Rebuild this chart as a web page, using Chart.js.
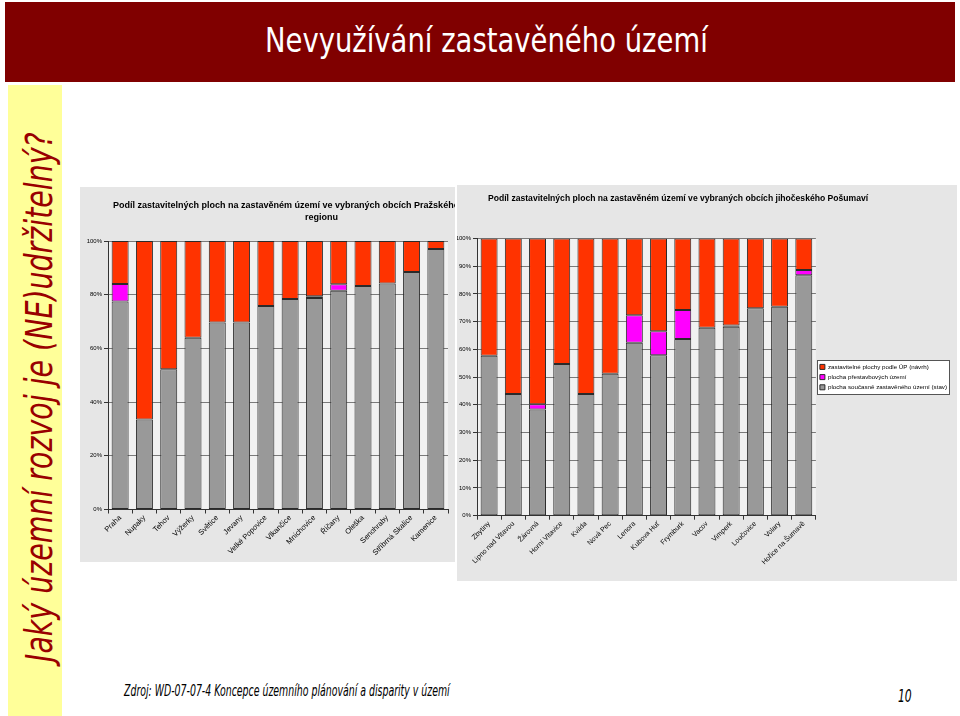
<!DOCTYPE html>
<html><head><meta charset="utf-8">
<script src="https://cdn.jsdelivr.net/npm/chart.js@4.4.1/dist/chart.umd.min.js"></script>
<style>
html,body{margin:0;padding:0;background:#fff;width:960px;height:716px;overflow:hidden;position:relative;font-family:"DejaVu Sans Condensed","DejaVu Sans",sans-serif;}
#bar{position:absolute;left:5px;top:2px;width:950px;height:80px;background:#800000;}
#maintitle{position:absolute;left:265px;top:24px;color:#fff;font-size:33px;white-space:nowrap;transform-origin:0 0;line-height:1;}
#strip{position:absolute;left:8px;top:85px;width:54px;height:631px;background:#ffff99;}
#vt{position:absolute;left:21px;top:662px;transform-origin:0 0;white-space:nowrap;font-style:italic;color:#990000;font-size:37px;line-height:1;}
.panel{position:absolute;background:#e6e6e6;overflow:hidden;}
#p1{left:80px;top:187px;width:375px;height:375px;}
#p2{left:457px;top:185px;width:500px;height:396px;}
.ctitle{position:absolute;font-family:"Liberation Sans",Arial,sans-serif;font-weight:bold;font-size:8.6px;color:#000;white-space:nowrap;line-height:1;}
.cw{position:absolute;left:0;top:0;}
#foot{position:absolute;left:124px;top:684px;font-style:italic;font-size:15px;color:#000;white-space:nowrap;transform-origin:0 0;line-height:1;}
#pg{position:absolute;left:898px;top:687px;font-style:italic;font-size:18px;color:#000;white-space:nowrap;transform-origin:0 0;line-height:1;}
</style>
</head>
<body>
<div id="bar"></div>
<div id="maintitle">Nevyužívání zastavěného území</div>
<div id="strip"></div>
<div id="vt">Jaký územní rozvoj je (NE)udržitelný?</div>

<div class="panel" id="p1">
  <div class="cw" style="width:375px;height:375px;"><canvas id="c1"></canvas></div>
  <div class="ctitle" style="left:33px;top:14px;font-size:9px;">Podíl zastavitelných ploch na zastavěném území ve vybraných obcích Pražského</div>
  <div class="ctitle" style="left:225px;top:26px;font-size:9px;">regionu</div>
</div>
<div class="panel" id="p2">
  <div class="cw" style="width:500px;height:396px;"><canvas id="c2"></canvas></div>
  <div class="ctitle" style="left:31px;top:9px;">Podíl zastavitelných ploch na zastavěném území ve vybraných obcích jihočeského Pošumaví</div>
</div>

<div id="foot">Zdroj: WD-07-07-4 Koncepce územního plánování a disparity v území</div>
<div id="pg">10</div>

<script>
// ---- data: Pražský region ----
const pragueTowns = ["Praha","Nupaky","Tehov","Výžerky","Světice","Jevany","Velké Popovice","Vlkančice","Mnichovice","Říčany","Oleška","Senohraby","Stříbrná Skalice","Kamenice"];
const pragueStav = [77.5,33.5,52.2,64.0,69.6,69.6,75.8,78.4,78.8,81.5,83.2,84.2,88.5,97.0];
const praguePrestavba = [6.5,0,0,0,0,0,0,0,0.6,2.4,0,0,0,0];
const pragueNavrh = [16.0,66.5,47.8,36.0,30.4,30.4,24.2,21.6,20.6,16.1,16.8,15.8,11.5,3.0];

// ---- data: jihočeské Pošumaví ----
const sumavaTowns = ["Zbytiny","Lipno nad Vltavou","Žárovná","Horní Vltavice","Kvilda","Nová Pec","Lenora","Kubova Huť","Frymburk","Vacov","Vimperk","Loučovice","Volary","Hořice na Šumavě"];
const sumavaStav = [57.7,43.9,38.3,54.7,43.9,51.2,62.4,57.9,63.7,67.8,68.2,74.8,75.4,86.7];
const sumavaPrestavba = [0,0,1.9,0,0,0,9.9,8.6,10.5,0,0.4,0,0,1.9];
const sumavaNavrh = [42.3,56.1,59.8,45.3,56.1,48.8,27.7,33.5,25.8,32.2,31.4,25.2,24.6,11.4];

const seriesNames = ["plocha současně zastavěného území (stav)","plocha přestavbových území","zastavitelné plochy podle ÚP (návrh)"];
const leftTicks = [0,20,40,60,80,100];
const rightTicks = [0,10,20,30,40,50,60,70,80,90,100];

// fit text widths (slide fonts are horizontally condensed)
function fitW(id, w){const e=document.getElementById(id);const r=w/e.offsetWidth;e.style.transform='scaleX('+r+')';}
fitW('maintitle',443); fitW('foot',326); fitW('pg',14);
(function(){const e=document.getElementById('vt');const r=530/e.offsetWidth;e.style.transform='rotate(-90deg) scaleX('+r+')';})();

Chart.defaults.font.family='"Liberation Sans", Arial, sans-serif';
Chart.defaults.color='#000';
Chart.defaults.animation=false;

const plotBg={id:'plotBg',beforeDraw(chart){const {ctx,chartArea:a}=chart;ctx.save();ctx.fillStyle='#f1f1f1';ctx.fillRect(a.left,a.top,a.right-a.left,a.bottom-a.top);ctx.restore();}};
function legendRect(chart){const lg=chart.legend;if(!lg||!lg.options.display||!lg.legendHitBoxes||!lg.legendHitBoxes.length)return null;
 let x0=1e9,y0=1e9,x1=-1e9,y1=-1e9;lg.legendHitBoxes.forEach(h=>{x0=Math.min(x0,h.left);y0=Math.min(y0,h.top);x1=Math.max(x1,h.left+h.width);y1=Math.max(y1,h.top+h.height);});
 return {x:Math.round(x0)-2.5,y:Math.round(y0)-3.5,w:Math.round(x1-x0)+5,h:Math.round(y1-y0)+7};}
const legendBox={id:'legendBox',
 beforeDraw(chart){const r=legendRect(chart);if(!r)return;const c=chart.ctx;c.save();c.fillStyle='#fff';c.fillRect(r.x,r.y,r.w,r.h);c.restore();},
 afterDraw(chart){const r=legendRect(chart);if(!r)return;const c=chart.ctx;c.save();c.strokeStyle='#555';c.lineWidth=1;c.strokeRect(r.x,r.y,r.w,r.h);c.restore();}};

function makeChart(id, labels, stav, prest, navrh, ticks, cfg){
  const common={barPercentage:0.7,categoryPercentage:1.0,borderWidth:1,borderColor:'#2a2a2a',borderSkipped:false};
  return new Chart(document.getElementById(id),{
    type:'bar',
    data:{labels:labels,datasets:[
      Object.assign({label:seriesNames[0],data:stav,backgroundColor:'#999999'},common),
      Object.assign({label:seriesNames[1],data:prest,backgroundColor:'#ff00ff'},common),
      Object.assign({label:seriesNames[2],data:navrh,backgroundColor:'#ff3300'},common)
    ]},
    options:{
      responsive:true,maintainAspectRatio:false,
      layout:{padding:cfg.padding},
      plugins:{
        title:{display:false},tooltip:{enabled:false},
        legend:{display:cfg.legend,position:'right',fullSize:false,reverse:true,align:'center',maxWidth:220,
          labels:{boxWidth:5,boxHeight:5,padding:4,font:{size:6.2},color:'#000'}}
      },
      scales:{
        x:{stacked:true,
          grid:{drawOnChartArea:false,offset:true,tickLength:4,color:'#333'},
          border:{color:'#333'},
          ticks:{minRotation:45,maxRotation:45,autoSkip:false,padding:0,font:{size:cfg.xFont},color:'#000'},
          afterFit(s){s.height=cfg.xHeight;}
        },
        y:{stacked:true,min:0,max:100,
          afterBuildTicks(s){s.ticks=ticks.map(v=>({value:v}));},
          grid:{color:'#7a7a7a',tickLength:4,tickColor:'#333'},
          border:{color:'#333'},
          ticks:{callback:v=>v+'%',font:{size:6},color:'#000',padding:2},
          afterFit(s){s.width=cfg.yWidth;}
        }
      }
    },
    plugins:[plotBg,legendBox]
  });
}

makeChart('c1',pragueTowns,pragueStav,praguePrestavba,pragueNavrh,leftTicks,
  {padding:{top:54,right:7,left:0,bottom:0},xHeight:52.5,yWidth:28,xFont:7.5,legend:false});
makeChart('c2',sumavaTowns,sumavaStav,sumavaPrestavba,sumavaNavrh,rightTicks,
  {padding:{top:53.5,right:0,left:0,bottom:0},xHeight:65.3,yWidth:20,xFont:7,legend:true});
</script>
</body></html>
